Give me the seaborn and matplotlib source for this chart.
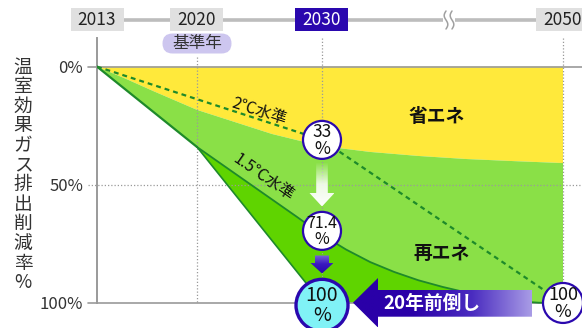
import numpy as np
import matplotlib
matplotlib.use("Agg")
import matplotlib.pyplot as plt
import seaborn as sns
from matplotlib.patches import Rectangle, FancyBboxPatch, Circle, Polygon
from matplotlib.colors import LinearSegmentedColormap

# ---------------- data ----------------
timeline_years = [2013, 2020, 2030, 2050]
timeline_labels = ["2013", "2020", "2030", "2050"]
base_year_label = "基準年"

# upper edge of the renewable (green) band = lower edge of the energy-saving (yellow) band
savings_years = [2013, 2015, 2017, 2020, 2023, 2026, 2028, 2030, 2034, 2038, 2042, 2046, 2050]
savings_pct = [0, 5.1, 10.5, 18.3, 23.4, 28.5, 31.1, 33.6, 36.1, 37.8, 39.1, 40.0, 40.8]

# 1.5°C pathway
early_years = [2013, 2020]
early_pct = [0, 34]
curve15_years = [2020, 2022, 2024, 2026, 2028, 2030, 2032, 2034, 2036, 2038,
                 2040, 2042, 2044, 2046, 2048, 2050]
curve15_pct = [34, 41.4, 48.8, 56.2, 63.6, 71.2, 77.4, 82.7, 86.9, 90.4,
               93.2, 95.6, 97.8, 99.2, 99.9, 100]

# accelerated target (100% by 2030)
target_years = [2020, 2030]
target_pct = [34, 100]

# 2°C pathway (dashed)
path2_years = [2013, 2030, 2050]
path2_pct = [0, 31, 100]

y_ticks = [0, 50, 100]
y_ticklabels = ["0%", "50%", "100%"]
y_label = "温室効果ガス排出削減率%"

badge_years = [2030, 2030, 2030, 2050]
badge_pct = [31, 69.5, 101, 100]
badge_values = ["33", "71.4", "100", "100"]

area_labels = ["省エネ", "再エネ"]
area_label_years = [2039.5, 2039.9]
area_label_pct = [21.0, 78.9]
path_labels = ["2℃水準", "1.5℃水準"]
path_label_years = [2025.0, 2025.3]
path_label_pct = [18.8, 47.1]
shift_label = "20年前倒し"

# ---------------- style ----------------
sns.set_theme(style="white")
plt.rcParams["font.family"] = ["Noto Sans CJK JP", "DejaVu Sans"]

YELLOW = "#ffe93b"
LGREEN = "#8ae047"
BGREEN = "#5fd400"
DGREEN = "#1e8a2a"
GRAY = "#9a9a9a"
VIOLET = "#2a08ae"

W, H = 582, 328
fig = plt.figure(figsize=(W / 100, H / 100), dpi=100)
fig.patch.set_facecolor("white")

ax = fig.add_axes([97 / W, 0, (W - 97) / W, 1])
ax.set_facecolor("none")

# piecewise-linear (broken) time scale
knot_years = np.array([2000, 2013, 2020, 2030, 2050, 2100.0])
knot_pos = np.array([-185.7, 0, 100, 225, 466, 466 + 50 * 12.05])


def fwd(x):
    return np.interp(x, knot_years, knot_pos)


def inv(p):
    return np.interp(p, knot_pos, knot_years)


ax.set_xscale("function", functions=(fwd, inv))
x_right = float(inv(W - 97))
x_left_tick = float(inv(-9))

# areas
ax.fill(np.r_[savings_years, savings_years[::-1]],
        np.r_[np.zeros(len(savings_pct)), savings_pct[::-1]],
        color=YELLOW, lw=0, zorder=1)
low_years = early_years + curve15_years[1:]
low_pct = early_pct + curve15_pct[1:]
ax.fill(np.r_[savings_years, low_years[::-1]],
        np.r_[savings_pct, low_pct[::-1]],
        color=LGREEN, lw=0, zorder=1)
ax.fill(np.r_[target_years, curve15_years[::-1]],
        np.r_[target_pct, curve15_pct[::-1]],
        color=BGREEN, lw=0, zorder=2)

# grid-like reference lines
dot = (0, (1, 1.6))
ax.plot([2020, 2020], [-4.1, 100], color=GRAY, lw=0.9, ls=dot, zorder=3)
for yr in (2030, 2050):
    ax.plot([yr, yr], [-12.1, 100], color=GRAY, lw=0.9, ls=dot, zorder=3)
ax.plot([x_left_tick, x_right], [50, 50], color=GRAY, lw=0.9, ls=dot, zorder=3, clip_on=False)
for yv in (0, 100):
    ax.plot([x_left_tick, x_right], [yv, yv], color=GRAY, lw=1.2, zorder=4, clip_on=False)

# pathway lines
sns.lineplot(x=path2_years, y=path2_pct, ax=ax, color=DGREEN, lw=1.6,
             linestyle=(0, (2.2, 1.8)), zorder=5)
sns.lineplot(x=early_years, y=early_pct, ax=ax, color=DGREEN, lw=1.6, zorder=5)
sns.lineplot(x=target_years, y=target_pct, ax=ax, color=DGREEN, lw=1.2, zorder=5)
sns.lineplot(x=curve15_years, y=curve15_pct, ax=ax, color=DGREEN, lw=1.3, zorder=5)

ax.set_xlim(2013, x_right)
ax.set_ylim(110.6, -28.2)
ax.set_xticks([])
ax.set_yticks(y_ticks, y_ticklabels)
ax.tick_params(axis="y", length=0, pad=10, labelsize=12, labelcolor="#333333")
for s in ("top", "right", "bottom"):
    ax.spines[s].set_visible(False)
ax.spines["left"].set_color(GRAY)
ax.spines["left"].set_linewidth(1.4)
ax.spines["left"].set_bounds(-12.1, 100)
ax.set_xlabel("")
ax.set_ylabel("")

# in-chart labels
for t, yr, p in zip(area_labels, area_label_years, area_label_pct):
    ax.text(yr, p, t, ha="center", va="center", fontsize=13.5, fontweight="bold",
            color="#111111", zorder=6)
for t, yr, p, rot in zip(path_labels, path_label_years, path_label_pct, (-18, -35)):
    ax.text(yr, p, t, ha="center", va="center", fontsize=11.5, color="#111111",
            rotation=rot, rotation_mode="anchor", zorder=6)

# ---------------- overlay (pixel space) ----------------
ov = fig.add_axes([0, 0, 1, 1], zorder=10)
ov.set_facecolor("none")
ov.axis("off")
ov.set_autoscale_on(False)
ov.set_xlim(0, W)
ov.set_ylim(H, 0)


def P(year, pct):
    d = ax.transData.transform([(year, pct)])[0]
    return d[0], H - d[1]


def gradient_poly(verts, colors, direction="h", z=11):
    poly = Polygon(verts, closed=True, facecolor="none", edgecolor="none")
    ov.add_patch(poly)
    xs = [v[0] for v in verts]
    ys = [v[1] for v in verts]
    x0, x1, y0, y1 = min(xs), max(xs), min(ys), max(ys)
    cmap = LinearSegmentedColormap.from_list("g", colors)
    t = np.linspace(0, 1, 256)
    rgba = cmap(t)
    img = rgba[None, :, :] if direction == "h" else rgba[:, None, :]
    im = ov.imshow(img, extent=(x0, x1, y1, y0), origin="upper", aspect="auto",
                   interpolation="bilinear", zorder=z)
    im.set_clip_path(poly)


# y label stacked vertically
for i, ch in enumerate(y_label):
    ov.text(23, 67 + i * 19.6, ch, ha="center", va="center", fontsize=13.5, color="#333333")

# timeline
tl_y = 20
x13 = P(2013, 0)[0]
x50 = P(2050, 0)[0]
ov.plot([x13, x50], [tl_y, tl_y], color="#bdbdbd", lw=2.6, solid_capstyle="butt", zorder=11)
# wavy break
xb = 449
ov.add_patch(Rectangle((xb - 6, tl_y - 3), 12, 6, facecolor="white", edgecolor="none", zorder=12))
tt = np.linspace(-1, 1, 60)
for dx in (-3, 3):
    ov.plot(xb + dx + 1.8 * np.sin(tt * np.pi), tl_y + tt * 9, color="#a0a0a0", lw=1.1, zorder=13)

for yr, lab in zip(timeline_years, timeline_labels):
    cx = P(yr, 0)[0]
    hi = (yr == 2030)
    ov.add_patch(Rectangle((cx - 26.5, 8.3), 53, 22.7,
                           facecolor=VIOLET if hi else "#e0e0e0", edgecolor="none", zorder=14))
    ov.text(cx, 19.9, lab, ha="center", va="center", fontsize=12.5,
            color="white" if hi else "#222222", zorder=15)

# base year pill
cx20 = P(2020, 0)[0]
ov.add_patch(FancyBboxPatch((cx20 - 34.5, 33.5), 69, 20,
                            boxstyle="round,pad=0,rounding_size=10",
                            facecolor="#cdc6ef", edgecolor="none", zorder=14))
ov.text(cx20, 43.5, base_year_label, ha="center", va="center", fontsize=12, color="#333333", zorder=15)

# arrows
cx30 = P(2030, 0)[0]
# white arrow (33 -> 71.4)
gradient_poly([(cx30 - 5.8, 163), (cx30 + 5.8, 163), (cx30 + 5.8, 193), (cx30 + 12.5, 193),
               (cx30, 206.5), (cx30 - 12.5, 193), (cx30 - 5.8, 193)],
              [(1, 1, 1, 0.0), (1, 1, 1, 0.85), (1, 1, 1, 1)], direction="v")
# violet arrow (71.4 -> 100)
gradient_poly([(cx30 - 7, 255.5), (cx30 + 7, 255.5), (cx30 + 7, 263), (cx30 + 11.5, 263),
               (cx30, 273.5), (cx30 - 11.5, 263), (cx30 - 7, 263)],
              ["#7a66d6", "#3a18c0", "#2a08ae"], direction="v")
# big left arrow "20年前倒し"
gradient_poly([(353, 302.7), (378, 278), (378, 290), (532, 290), (532, 316.7),
               (378, 316.7), (378, 327.5)],
              ["#2a00a8", "#2a00a8", "#4a2cc0", "#a99ce6"], direction="h")
ov.text(432, 303, shift_label, ha="center", va="center", fontsize=13.5,
        fontweight="bold", color="white", zorder=16)

# badges
for yr, p, val, i in zip(badge_years, badge_pct, badge_values, range(4)):
    bx, by = P(yr, p)
    if i == 2:
        r, fc, lw, fs = 26, "#80f2f6", 2.4, 14
    elif i == 3:
        r, fc, lw, fs = 20, "white", 1.6, 13
    else:
        r, fc, lw, fs = 19, "white", 1.6, 12.5 if len(val) < 4 else 11.5
    ov.add_patch(Circle((bx, by), r, facecolor=fc, edgecolor=VIOLET, lw=lw, zorder=17))
    ov.text(bx, by + 0.5, f"{val}\n%", ha="center", va="center", multialignment="center",
            fontsize=fs, linespacing=0.92, color="#111111", zorder=18)

fig.savefig("out.png", dpi=100, facecolor="white")
